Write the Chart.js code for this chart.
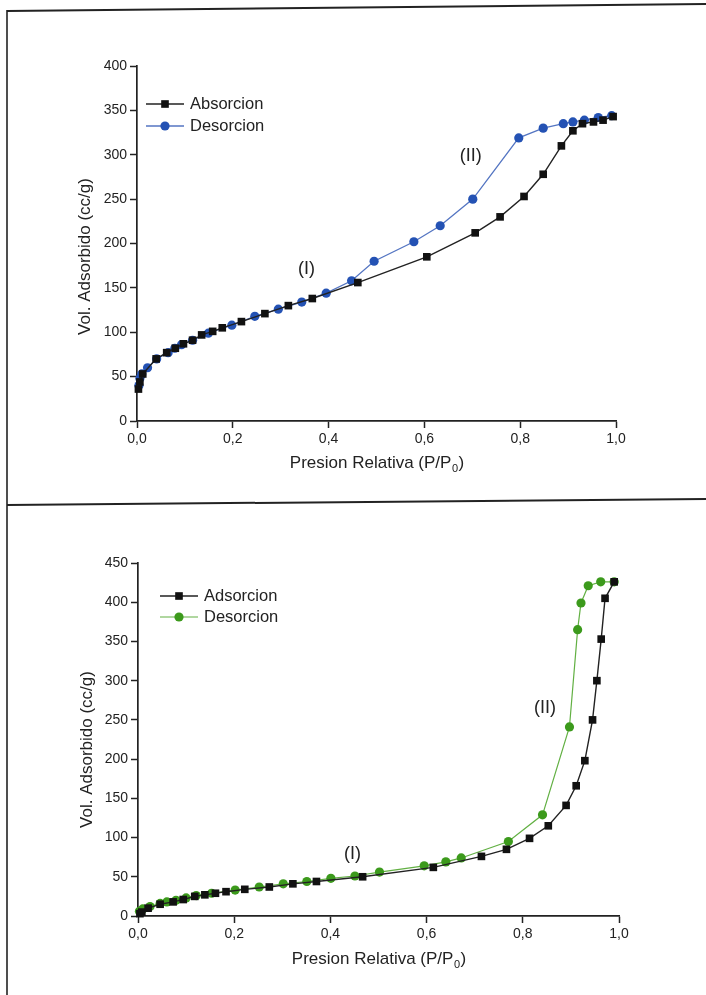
<!DOCTYPE html>
<html>
<head>
<meta charset="utf-8">
<script src="https://cdn.jsdelivr.net/npm/chart.js@4.4.1/dist/chart.umd.min.js"></script>
<style>
  html, body { margin: 0; padding: 0; background: #fff; }
  #page { position: relative; width: 706px; height: 995px; overflow: hidden; background: #fff; }
  canvas { position: absolute; left: 0; }
  #frame { position: absolute; left: 0; top: 0; }
</style>
</head>
<body>
<div id="page">
  <canvas id="graficoA" width="706" height="500" style="top:0"></canvas>
  <canvas id="graficoB" width="706" height="495" style="top:500px"></canvas>
  <svg id="frame" width="706" height="995">
    <line x1="7" y1="11" x2="706" y2="4" stroke="#222" stroke-width="2"/>
    <line x1="7" y1="10" x2="7" y2="995" stroke="#222" stroke-width="1.6"/>
    <line x1="7" y1="505" x2="706" y2="499" stroke="#222" stroke-width="2"/>
  </svg>
</div>
<script>
// ==========================================
// ISOTERMAS DE ADSORCION / DESORCION
// ==========================================

// --- grafico superior ---
const absA_x = [0.003, 0.006, 0.012, 0.040, 0.062, 0.080, 0.097, 0.116, 0.135, 0.158, 0.178, 0.218, 0.267, 0.316, 0.366, 0.461, 0.605, 0.706, 0.758, 0.808, 0.848, 0.886, 0.910, 0.930, 0.953, 0.973, 0.994];
const absA_y = [36, 44, 53, 70, 77, 82, 87, 91, 97, 101, 105, 112, 121, 130, 138, 156, 185, 212, 230, 253, 278, 310, 327, 335, 337, 339, 343];
const desA_x = [0.004, 0.006, 0.010, 0.022, 0.041, 0.065, 0.079, 0.093, 0.116, 0.149, 0.198, 0.246, 0.295, 0.344, 0.395, 0.448, 0.495, 0.578, 0.633, 0.701, 0.797, 0.848, 0.890, 0.910, 0.934, 0.963, 0.991];
const desA_y = [40, 48, 53, 60, 70, 77, 82, 86, 91, 99, 108, 118, 126, 134, 144, 158, 180, 202, 220, 250, 319, 330, 335, 337, 339, 342, 344];

// --- grafico inferior ---
const absB_x = [0.004, 0.008, 0.021, 0.046, 0.073, 0.094, 0.118, 0.139, 0.161, 0.183, 0.222, 0.273, 0.322, 0.371, 0.467, 0.614, 0.714, 0.766, 0.814, 0.853, 0.890, 0.911, 0.929, 0.945, 0.954, 0.963, 0.971, 0.990];
const absB_y = [3, 5, 10, 15, 18, 21, 25, 27, 29, 31, 34, 37, 41, 44, 50, 62, 76, 85, 99, 115, 141, 166, 198, 250, 300, 353, 405, 426];
const desB_x = [0.003, 0.010, 0.025, 0.046, 0.060, 0.079, 0.100, 0.121, 0.153, 0.202, 0.252, 0.302, 0.351, 0.401, 0.451, 0.502, 0.595, 0.640, 0.672, 0.770, 0.841, 0.897, 0.914, 0.921, 0.936, 0.962, 0.990];
const desB_y = [6, 9, 12, 16, 18, 20, 23, 26, 29, 33, 37, 41, 44, 48, 51, 56, 64, 69, 74, 95, 129, 241, 365, 399, 421, 426, 426];

const legendaA = ['Absorcion', 'Desorcion'];
const legendaB = ['Adsorcion', 'Desorcion'];
const notasA = [{ txt: '(I)', x: 0.354, y: 171 }, { txt: '(II)', x: 0.697, y: 298 }];
const notasB = [{ txt: '(I)', x: 0.446, y: 79 }, { txt: '(II)', x: 0.846, y: 265 }];
const xTicks = [0, 0.2, 0.4, 0.6, 0.8, 1.0];
const tituloY = 'Vol. Adsorbido (cc/g)';
const tituloX = ['Presion Relativa (P/P', '0', ')'];

const FONTE = '"Liberation Sans", Arial, sans-serif';
const TINTA = '#222';

function pares(xs, ys) { return xs.map((x, i) => ({ x: x, y: ys[i] })); }

function serie(label, dados, cor, corLinha, estilo, raio, largura) {
    return {
        label: label,
        data: dados,
        showLine: true,
        borderColor: corLinha,
        borderWidth: largura,
        backgroundColor: cor,
        pointBackgroundColor: cor,
        pointBorderColor: cor,
        pointBorderWidth: 0,
        pointStyle: estilo,
        pointRadius: raio,
        clip: false
    };
}

// legenda, notas e titulos desenhados a mao
const extras = {
    id: 'extras',
    afterDatasetsDraw(chart, args, op) {
        const ctx = chart.ctx;
        const ca = chart.chartArea;
        const sx = chart.scales.x, sy = chart.scales.y;
        ctx.save();

        // legenda
        ctx.font = '16.5px ' + FONTE;
        ctx.textBaseline = 'middle';
        ctx.textAlign = 'left';
        op.legenda.forEach((txt, i) => {
            let ds = chart.data.datasets[i];
            let y = ca.top + op.legY[i];
            let x0 = ca.left + op.legX;
            ctx.strokeStyle = ds.borderColor;
            ctx.lineWidth = ds.borderWidth;
            ctx.beginPath(); ctx.moveTo(x0, y); ctx.lineTo(x0 + 38, y); ctx.stroke();
            ctx.fillStyle = ds.pointBackgroundColor;
            ctx.beginPath();
            if (ds.pointStyle === 'rect') {
                let s = ds.pointRadius * Math.SQRT1_2;
                ctx.rect(x0 + 19 - s, y - s, 2 * s, 2 * s);
            } else {
                ctx.arc(x0 + 19, y, ds.pointRadius, 0, Math.PI * 2);
            }
            ctx.fill();
            ctx.fillStyle = TINTA;
            ctx.fillText(txt, x0 + 44, y);
        });

        // notas (I) (II)
        ctx.font = '18px ' + FONTE;
        ctx.textAlign = 'center';
        ctx.fillStyle = TINTA;
        op.notas.forEach(n => ctx.fillText(n.txt, sx.getPixelForValue(n.x), sy.getPixelForValue(n.y)));

        // titulo eixo X com subscrito
        let fG = '17px ' + FONTE, fP = '11px ' + FONTE;
        ctx.textAlign = 'left';
        ctx.font = fG;
        let w1 = ctx.measureText(tituloX[0]).width, w3 = ctx.measureText(tituloX[2]).width;
        ctx.font = fP;
        let w2 = ctx.measureText(tituloX[1]).width;
        let cx = (ca.left + ca.right) / 2, cy = ca.bottom + op.xTitOff;
        let xi = cx - (w1 + w2 + w3) / 2;
        ctx.font = fG; ctx.fillText(tituloX[0], xi, cy);
        ctx.font = fP; ctx.fillText(tituloX[1], xi + w1 + 0.5, cy + 6);
        ctx.font = fG; ctx.fillText(tituloX[2], xi + w1 + w2 + 1, cy);

        // titulo eixo Y
        ctx.translate(ca.left - op.yTitOff, (ca.top + ca.bottom) / 2 + op.yTitDesl);
        ctx.rotate(-Math.PI / 2);
        ctx.textAlign = 'center';
        ctx.font = fG;
        ctx.fillText(tituloY, 0, 0);
        ctx.restore();
    }
};

function eixo(min, max, passo, fmt, larg, alt) {
    return {
        type: 'linear', min: min, max: max,
        grid: { display: true, drawOnChartArea: false, drawTicks: true, tickLength: 7, tickColor: TINTA, tickWidth: 1.5 },
        border: { display: true, color: TINTA, width: 1.7 },
        ticks: { stepSize: passo, color: TINTA, font: { family: FONTE, size: 14 }, padding: 3, callback: fmt, maxRotation: 0, autoSkip: false },
        afterFit: s => { if (larg) s.width = larg; if (alt) s.height = alt; }
    };
}

function desenharGrafico(id, dsAbs, dsDes, yMax, padding, extrasOp) {
    let ctx = document.getElementById(id);
    let eixoX = eixo(0, 1, 0.2, v => v.toFixed(1).replace('.', ','), null, 60);
    eixoX.afterBuildTicks = s => { s.ticks = xTicks.map(v => ({ value: v })); };
    return new Chart(ctx, {
        type: 'scatter',
        data: { datasets: [dsAbs, dsDes] },
        options: {
            responsive: false,
            animation: false,
            layout: { padding: padding },
            scales: {
                x: eixoX,
                y: eixo(0, yMax, 50, v => String(v), 60, null)
            },
            plugins: { legend: { display: false }, tooltip: { enabled: false }, extras: extrasOp }
        },
        plugins: [extras]
    });
}

desenharGrafico('graficoA',
    serie(legendaA[0], pares(absA_x, absA_y), '#111111', '#222222', 'rect', 5.4, 1.4),
    serie(legendaA[1], pares(desA_x, desA_y), '#2452b4', '#5475c2', 'circle', 4.6, 1.3),
    400, { left: 77, right: 90, top: 66, bottom: 19 },
    { legenda: legendaA, legX: 9, legY: [38, 60], notas: notasA, xTitOff: 42, yTitOff: 52, yTitDesl: 13 });

desenharGrafico('graficoB',
    serie(legendaB[0], pares(absB_x, absB_y), '#111111', '#222222', 'rect', 5.4, 1.4),
    serie(legendaB[1], pares(desB_x, desB_y), '#3c9a1c', '#62b043', 'circle', 4.6, 1.2),
    450, { left: 78, right: 87, top: 63, bottom: 19 },
    { legenda: legendaB, legX: 22, legY: [33, 54], notas: notasB, xTitOff: 43, yTitOff: 51, yTitDesl: 10 });
</script>
</body>
</html>
